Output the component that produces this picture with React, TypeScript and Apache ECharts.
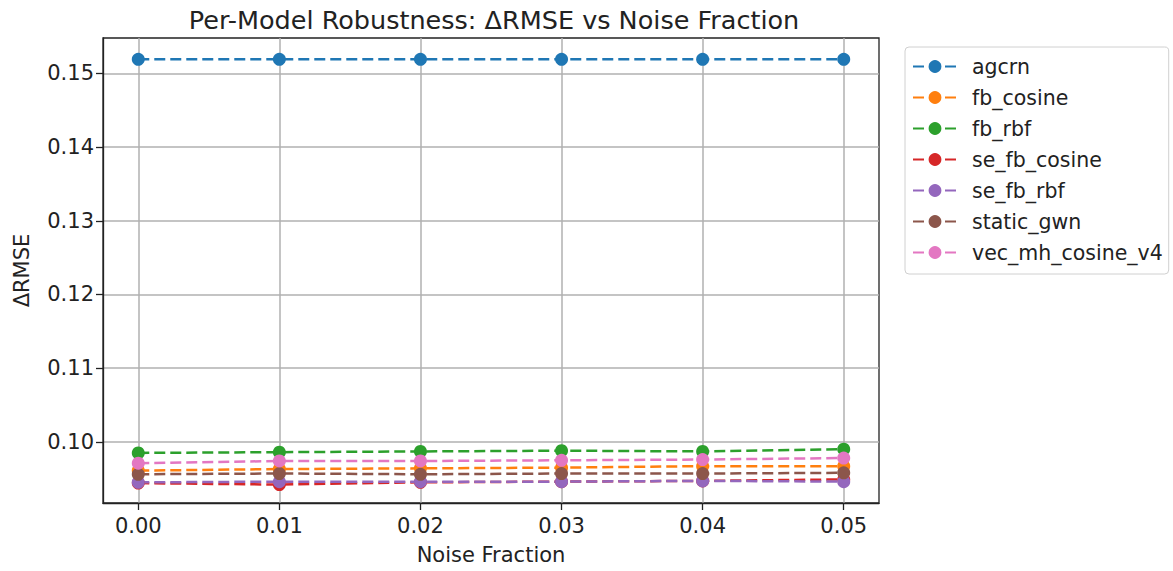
import React, { useEffect, useRef } from "react";
import * as echarts from "echarts";

const noiseFractions = [0.0, 0.01, 0.02, 0.03, 0.04, 0.05];
const xTicks = [0.0, 0.01, 0.02, 0.03, 0.04, 0.05];
const yTicks = [0.1, 0.11, 0.12, 0.13, 0.14, 0.15];

const modelNames = [
  "agcrn",
  "fb_cosine",
  "fb_rbf",
  "se_fb_cosine",
  "se_fb_rbf",
  "static_gwn",
  "vec_mh_cosine_v4",
];

const agcrn = [0.1519, 0.1519, 0.1519, 0.1519, 0.1519, 0.1519];
const fbCosine = [0.0961, 0.0963, 0.0964, 0.0965, 0.0967, 0.0967];
const fbRbf = [0.0985, 0.0986, 0.0987, 0.0988, 0.0987, 0.0990];
const seFbCosine = [0.0944, 0.0942, 0.0945, 0.0946, 0.0947, 0.0949];
const seFbRbf = [0.0945, 0.0946, 0.0946, 0.0946, 0.0947, 0.0946];
const staticGwn = [0.0956, 0.0957, 0.0956, 0.0957, 0.0957, 0.0958];
const vecMhCosineV4 = [0.0971, 0.0974, 0.0974, 0.0975, 0.0976, 0.0978];

const seriesValues = [agcrn, fbCosine, fbRbf, seFbCosine, seFbRbf, staticGwn, vecMhCosineV4];
const colors = ["#1f77b4", "#ff7f0e", "#2ca02c", "#d62728", "#9467bd", "#8c564b", "#e377c2"];

const FONT = "DejaVu Sans";

export default function App() {
  const ref = useRef<HTMLDivElement>(null);
  useEffect(() => {
    if (!ref.current) return;
    const chart = echarts.init(ref.current, undefined, { renderer: "svg" });
    const option: any = {
      animation: false,
      backgroundColor: "#ffffff",
      title: {
        text: "Per-Model Robustness: ΔRMSE vs Noise Fraction",
        left: 489,
        textAlign: "center",
        top: 2,
        textStyle: { fontFamily: FONT, fontSize: 25.5, fontWeight: "normal", color: "#222" },
      },
      grid: {
        left: 103,
        right: 294,
        top: 38,
        bottom: 68,
        show: true,
        borderColor: "#222",
        borderWidth: 1.3,
        backgroundColor: "transparent",
      },
      legend: {
        orient: "vertical",
        left: 905,
        top: 47,
        data: modelNames,
        itemWidth: 44,
        itemHeight: 16,
        itemGap: 10,
        padding: [9, 6, 11, 7],
        borderColor: "#d0d0d0",
        borderWidth: 1,
        borderRadius: 4,
        textStyle: { fontFamily: FONT, fontSize: 20.5, color: "#222", padding: [0, 0, 0, 10] },
      },
      xAxis: {
        type: "value",
        min: -0.0025,
        max: 0.0525,
        name: "Noise Fraction",
        nameLocation: "middle",
        nameGap: 41,
        nameTextStyle: { fontFamily: FONT, fontSize: 21, color: "#222" },
        axisLine: { show: true, onZero: false, lineStyle: { color: "#222", width: 1.3 } },
        axisTick: { show: true, length: 7, customValues: xTicks, lineStyle: { color: "#222", width: 1.3 } },
        axisLabel: {
          customValues: xTicks,
          margin: 12,
          fontFamily: FONT,
          fontSize: 21,
          color: "#222",
          formatter: (v: number) => v.toFixed(2),
        },
        splitLine: { show: true, lineStyle: { color: "#b0b0b0", width: 1.5 } },
      },
      yAxis: {
        type: "value",
        min: 0.0917,
        max: 0.1548,
        name: "ΔRMSE",
        nameLocation: "middle",
        nameGap: 71,
        nameTextStyle: { fontFamily: FONT, fontSize: 21, color: "#222" },
        axisLine: { show: true, onZero: false, lineStyle: { color: "#222", width: 1.3 } },
        axisTick: { show: true, length: 7, customValues: yTicks, lineStyle: { color: "#222", width: 1.3 } },
        axisLabel: {
          customValues: yTicks,
          margin: 9,
          fontFamily: FONT,
          fontSize: 21,
          color: "#222",
          formatter: (v: number) => v.toFixed(2),
        },
        splitLine: { show: true, lineStyle: { color: "#b0b0b0", width: 1.5 } },
      },
      series: modelNames.map((name, i) => ({
        name,
        type: "line",
        data: noiseFractions.map((x, j) => [x, seriesValues[i][j]]),
        symbol: "circle",
        symbolSize: 13,
        showSymbol: true,
        color: colors[i],
        itemStyle: { color: colors[i] },
        lineStyle: { color: colors[i], width: 2.5, type: [11, 5] },
      })),
    };
    chart.setOption(option);
    return () => chart.dispose();
  }, []);
  return (
    <div
      ref={ref}
      style={{ position: "fixed", left: 0, top: 0, width: 1173, height: 571, background: "#fff" }}
    />
  );
}
